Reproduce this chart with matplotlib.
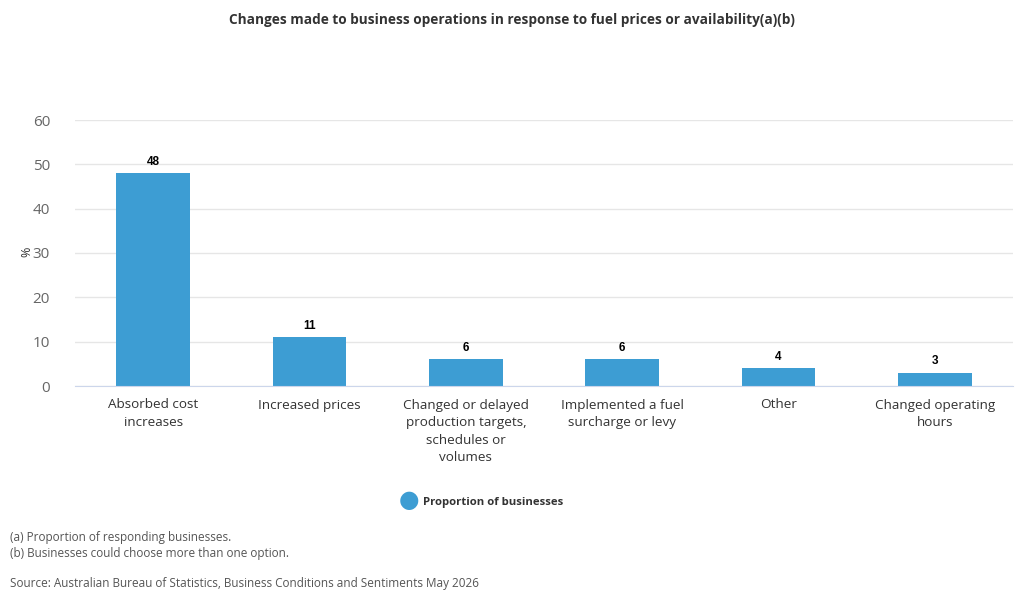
import matplotlib.pyplot as plt
import numpy as np

plt.rcParams['font.family'] = ['Open Sans', 'DejaVu Sans']

categories = ['Absorbed cost\nincreases', 'Increased prices',
              'Changed or delayed\nproduction targets,\nschedules or\nvolumes',
              'Implemented a fuel\nsurcharge or levy', 'Other',
              'Changed operating\nhours']
values = [48, 11, 6, 6, 4, 3]
series_name = 'Proportion of businesses'
yticks = [0, 10, 20, 30, 40, 50, 60]

bar_color = '#3d9dd3'
text_color = '#333333'
tick_color = '#666666'

fig = plt.figure(figsize=(10.24, 6.1), dpi=100)
ax = fig.add_axes([75 / 1024, 1 - 386 / 610, 938 / 1024, 266 / 610])

x = np.arange(len(categories))
ax.bar(x, values, width=0.47, color=bar_color, zorder=3)
for xi, v in zip(x, values):
    ax.text(xi, v + 1.2, str(v), ha='center', va='bottom', fontsize=8.5,
            fontweight='bold', family='Liberation Sans', color='#000000')

ax.set_xlim(-0.5, len(categories) - 0.5)
ax.set_ylim(0, 60)
ax.set_yticks(yticks)
ax.set_yticklabels([str(t) for t in yticks], fontsize=11, color=tick_color)
ax.set_xticks(x)
ax.set_xticklabels(categories, fontsize=9.7, color=text_color, va='top',
                   linespacing=1.45)
ax.tick_params(axis='both', length=0)
ax.tick_params(axis='x', pad=9)
ax.tick_params(axis='y', pad=18)
ax.grid(axis='y', color='#e6e6e6', linewidth=1, zorder=0)
for s in ['top', 'right', 'left']:
    ax.spines[s].set_visible(False)
ax.spines['bottom'].set_color('#ccd6eb')
ax.spines['bottom'].set_zorder(4)

fig.text(27 / 1024, 1 - 252 / 610, '%', rotation=90, ha='center', va='center',
         fontsize=9, color=text_color)

fig.text(0.5, 1 - 20 / 610,
         'Changes made to business operations in response to fuel prices or availability(a)(b)',
         ha='center', va='center', fontsize=9.8, fontweight='bold', color=text_color)

# legend
fig.text(409 / 1024, 1 - 500 / 610, '\u25cf', ha='center', va='center',
         fontsize=17, color=bar_color, family='DejaVu Sans')
fig.text(423 / 1024, 1 - 502 / 610, series_name, ha='left', va='center',
         fontsize=8.2, fontweight='bold', color=text_color)

fig.text(10 / 1024, 1 - 538 / 610, '(a) Proportion of responding businesses.',
         ha='left', va='center', fontsize=8.5, color='#555555')
fig.text(10 / 1024, 1 - 553 / 610, '(b) Businesses could choose more than one option.',
         ha='left', va='center', fontsize=8.5, color='#555555')
fig.text(10 / 1024, 1 - 584 / 610,
         'Source: Australian Bureau of Statistics, Business Conditions and Sentiments May 2026',
         ha='left', va='center', fontsize=8.5, color='#555555')

fig.savefig('out.png', dpi=100, facecolor='white')
